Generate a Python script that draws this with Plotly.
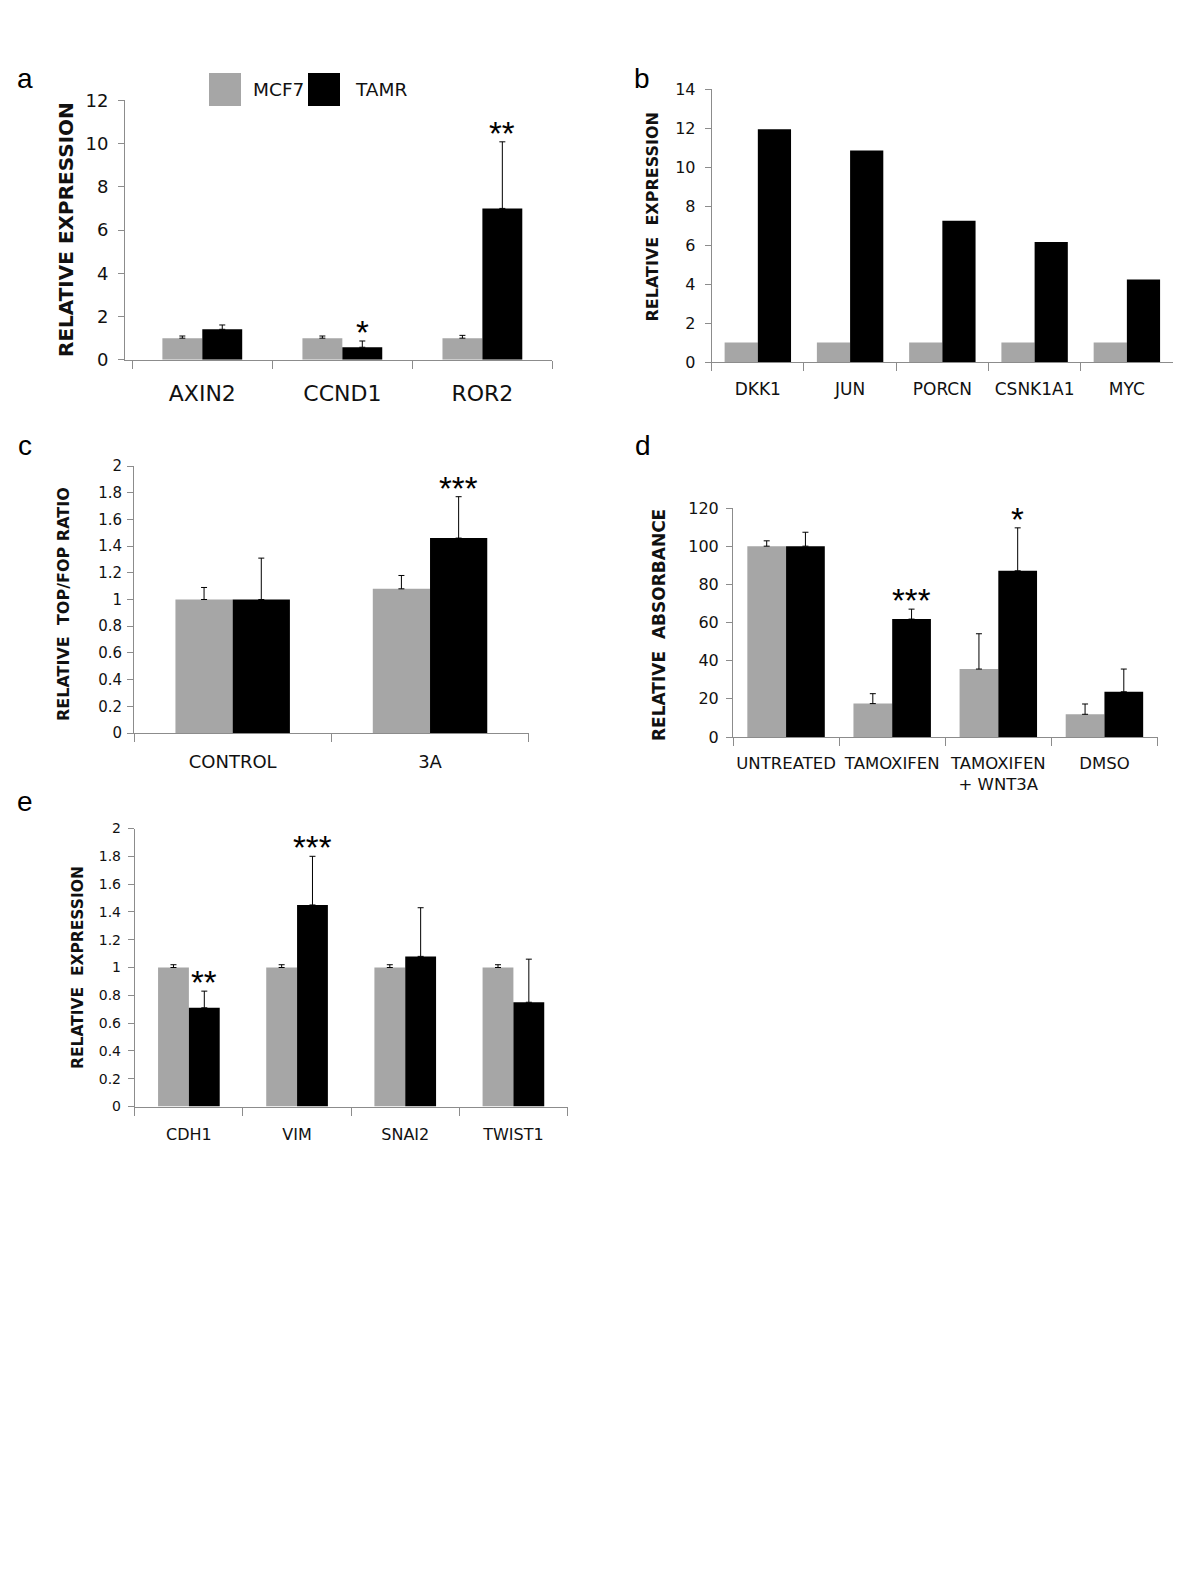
import plotly.graph_objects as go

W, H = 1200, 1589
series = ["MCF7", "TAMR"]
colors = {"MCF7": "#a6a6a6", "TAMR": "#000000"}

# Panel a
a_cats = ["AXIN2", "CCND1", "ROR2"]
a_mcf7 = [1.0, 1.0, 1.0]
a_mcf7_err = [0.10, 0.10, 0.13]
a_tamr = [1.41, 0.58, 7.0]
a_tamr_err = [0.20, 0.29, 3.08]
a_sig = ["", "*", "**"]
a_ticks = [0, 2, 4, 6, 8, 10, 12]

# Panel b
b_cats = ["DKK1", "JUN", "PORCN", "CSNK1A1", "MYC"]
b_mcf7 = [1.0, 1.0, 1.0, 1.0, 1.0]
b_tamr = [11.93, 10.84, 7.25, 6.16, 4.23]
b_ticks = [0, 2, 4, 6, 8, 10, 12, 14]

# Panel c
c_cats = ["CONTROL", "3A"]
c_mcf7 = [1.0, 1.08]
c_mcf7_err = [0.09, 0.10]
c_tamr = [1.0, 1.46]
c_tamr_err = [0.31, 0.31]
c_sig = ["", "***"]
c_ticks = [0, 0.2, 0.4, 0.6, 0.8, 1, 1.2, 1.4, 1.6, 1.8, 2]
c_ticklabels = ["0", "0.2", "0.4", "0.6", "0.8", "1", "1.2", "1.4", "1.6", "1.8", "2"]

# Panel d
d_cats = ["UNTREATED", "TAMOXIFEN", "TAMOXIFEN<br>+ WNT3A", "DMSO"]
d_mcf7 = [100, 17.5, 35.6, 11.9]
d_mcf7_err = [2.8, 5.2, 18.5, 5.4]
d_tamr = [100, 61.8, 87.1, 23.7]
d_tamr_err = [7.3, 5.2, 22.5, 11.9]
d_sig = ["", "***", "*", ""]
d_ticks = [0, 20, 40, 60, 80, 100, 120]

# Panel e
e_cats = ["CDH1", "VIM", "SNAI2", "TWIST1"]
e_mcf7 = [1.0, 1.0, 1.0, 1.0]
e_mcf7_err = [0.02, 0.02, 0.02, 0.02]
e_tamr = [0.71, 1.45, 1.08, 0.75]
e_tamr_err = [0.12, 0.35, 0.35, 0.31]
e_sig = ["**", "***", "", ""]
e_ticks = c_ticks
e_ticklabels = c_ticklabels

FONT = "DejaVu Sans"
AXC = "#8c8c8c"
NB = "\u00a0"

fig = go.Figure()
layout = dict(width=W, height=H, margin=dict(l=0, r=0, t=0, b=0, autoexpand=False),
              paper_bgcolor="white", plot_bgcolor="white", showlegend=False,
              barmode="group")
annotations = []
shapes = []


def add_panel(idx, cats, mcf7, tamr, mcf7_err, tamr_err, sig, ticks, ticklabels,
              ymax, px, py, ytitle, title_xy, tickfont, catfont, titlefont,
              bargap, letter, letter_xy, starfont, cat_standoff, tick_standoff, left_pad=0.0):
    xa = "x" if idx == 1 else f"x{idx}"
    ya = "y" if idx == 1 else f"y{idx}"
    w = (1 - bargap) / 2
    for name, vals, errs in (("MCF7", mcf7, mcf7_err), ("TAMR", tamr, tamr_err)):
        tr = dict(x=cats, y=vals, name=name, marker=dict(color=colors[name], line=dict(width=0)),
                  xaxis=xa, yaxis=ya, width=w, offset=(-w if name == "MCF7" else 0))
        if errs is not None:
            tr["error_y"] = dict(type="data", array=errs, arrayminus=[0] * len(errs),
                                 symmetric=False, color="#000000", thickness=1, width=3)
        fig.add_trace(go.Bar(**tr))
    sfx = "" if idx == 1 else str(idx)
    n = len(cats)
    layout["xaxis" + sfx] = dict(domain=[px[0] / W, px[1] / W], anchor=ya,
                                 type="category", range=[-0.5 - left_pad, n - 0.5],
                                 showline=True, linecolor=AXC, linewidth=1,
                                 ticks="outside", tickson="boundaries", ticklen=8, tickcolor=AXC,
                                 tickangle=0,
                                 tickfont=dict(family=FONT, size=catfont, color="#111"),
                                 ticklabelstandoff=cat_standoff, automargin=False,
                                 showgrid=False, zeroline=False, fixedrange=True)
    layout["yaxis" + sfx] = dict(domain=[1 - py[1] / H, 1 - py[0] / H], anchor=xa,
                                 range=[0, ymax], tickvals=ticks, ticktext=ticklabels,
                                 showline=True, linecolor=AXC, linewidth=1,
                                 ticks="outside", ticklen=6, tickcolor=AXC, automargin=False,
                                 ticklabelstandoff=tick_standoff,
                                 tickfont=dict(family=FONT, size=tickfont, color="#111"),
                                 showgrid=False, zeroline=False, fixedrange=True)
    # y title
    annotations.append(dict(text=ytitle, textangle=-90, xref="paper", yref="paper",
                            x=title_xy[0] / W, y=1 - title_xy[1] / H,
                            xanchor="center", yanchor="middle", showarrow=False,
                            font=dict(family=FONT, size=titlefont, color="#111", weight="bold")))
    # panel letter
    annotations.append(dict(text=letter, xref="paper", yref="paper",
                            x=letter_xy[0] / W, y=1 - letter_xy[1] / H,
                            xanchor="center", yanchor="middle", showarrow=False,
                            font=dict(family="Liberation Sans", size=28, color="#000")))
    # significance stars over TAMR bars
    off = w / 2
    if sig is not None:
        for i, s in enumerate(sig):
            if s:
                top = tamr[i] + (tamr_err[i] if tamr_err is not None else 0)
                annotations.append(dict(text=s, xref=xa, yref=ya, x=i + off, y=top,
                                        xanchor="center", yanchor="bottom", yshift=-12,
                                        showarrow=False,
                                        font=dict(family="Liberation Sans", size=starfont, color="#000")))


add_panel(1, a_cats, a_mcf7, a_tamr, a_mcf7_err, a_tamr_err, a_sig, a_ticks,
          [str(t) for t in a_ticks], 12, (125.0, 552.4), (100.3, 359.8),
          "RELATIVE EXPRESSION", (66, 230), 18, 22, 20, 0.43, "a", (25, 79), 33, 14, 6,
          left_pad=0.052)
add_panel(2, b_cats, b_mcf7, b_tamr, None, None, None, b_ticks,
          [str(t) for t in b_ticks], 14, (711.7, 1173.0), (89.0, 362.0),
          "RELATIVE" + NB + NB + "EXPRESSION", (652.5, 217), 16, 17, 16, 0.28, "b", (642, 79), 33, 12, 6)
add_panel(3, c_cats, c_mcf7, c_tamr, c_mcf7_err, c_tamr_err, c_sig, c_ticks,
          c_ticklabels, 2, (134.0, 528.7), (466.0, 733.0),
          "RELATIVE" + NB + NB + "TOP/FOP RATIO", (63, 604), 15, 18, 16, 0.42, "c", (25, 446), 33, 12, 2)
add_panel(4, d_cats, d_mcf7, d_tamr, d_mcf7_err, d_tamr_err, d_sig, d_ticks,
          [str(t) for t in d_ticks], 120, (733.0, 1157.5), (508.0, 737.0),
          "RELATIVE" + NB + NB + "ABSORBANCE", (659, 625), 16, 16.5, 17, 0.27, "d", (643, 446), 33, 11, 4)
add_panel(5, e_cats, e_mcf7, e_tamr, e_mcf7_err, e_tamr_err, e_sig, e_ticks,
          e_ticklabels, 2, (134.8, 567.5), (828.5, 1106.5),
          "RELATIVE" + NB + NB + "EXPRESSION", (78, 968), 14, 16, 15.5, 0.43, "e", (25, 801), 33, 13, 4)

# legend for panel a (drawn as swatches + text)
leg_pos = {"MCF7": (209, 241, 251), "TAMR": (308, 340, 353)}
for name in series:
    x0, x1, tx = leg_pos[name]
    shapes.append(dict(type="rect", xref="paper", yref="paper",
                       x0=x0 / W, x1=x1 / W, y0=1 - 106 / H, y1=1 - 73 / H,
                       fillcolor=colors[name], line=dict(width=0)))
    annotations.append(dict(text=name, xref="paper", yref="paper", x=tx / W, y=1 - 90 / H,
                            xanchor="left", yanchor="middle", showarrow=False,
                            font=dict(family=FONT, size=18.5, color="#111")))

layout["annotations"] = annotations
layout["shapes"] = shapes
fig.update_layout(**layout)

fig.write_html("out.html", config={"displayModeBar": False, "staticPlot": True},
               post_script="document.body.style.margin='0';")
